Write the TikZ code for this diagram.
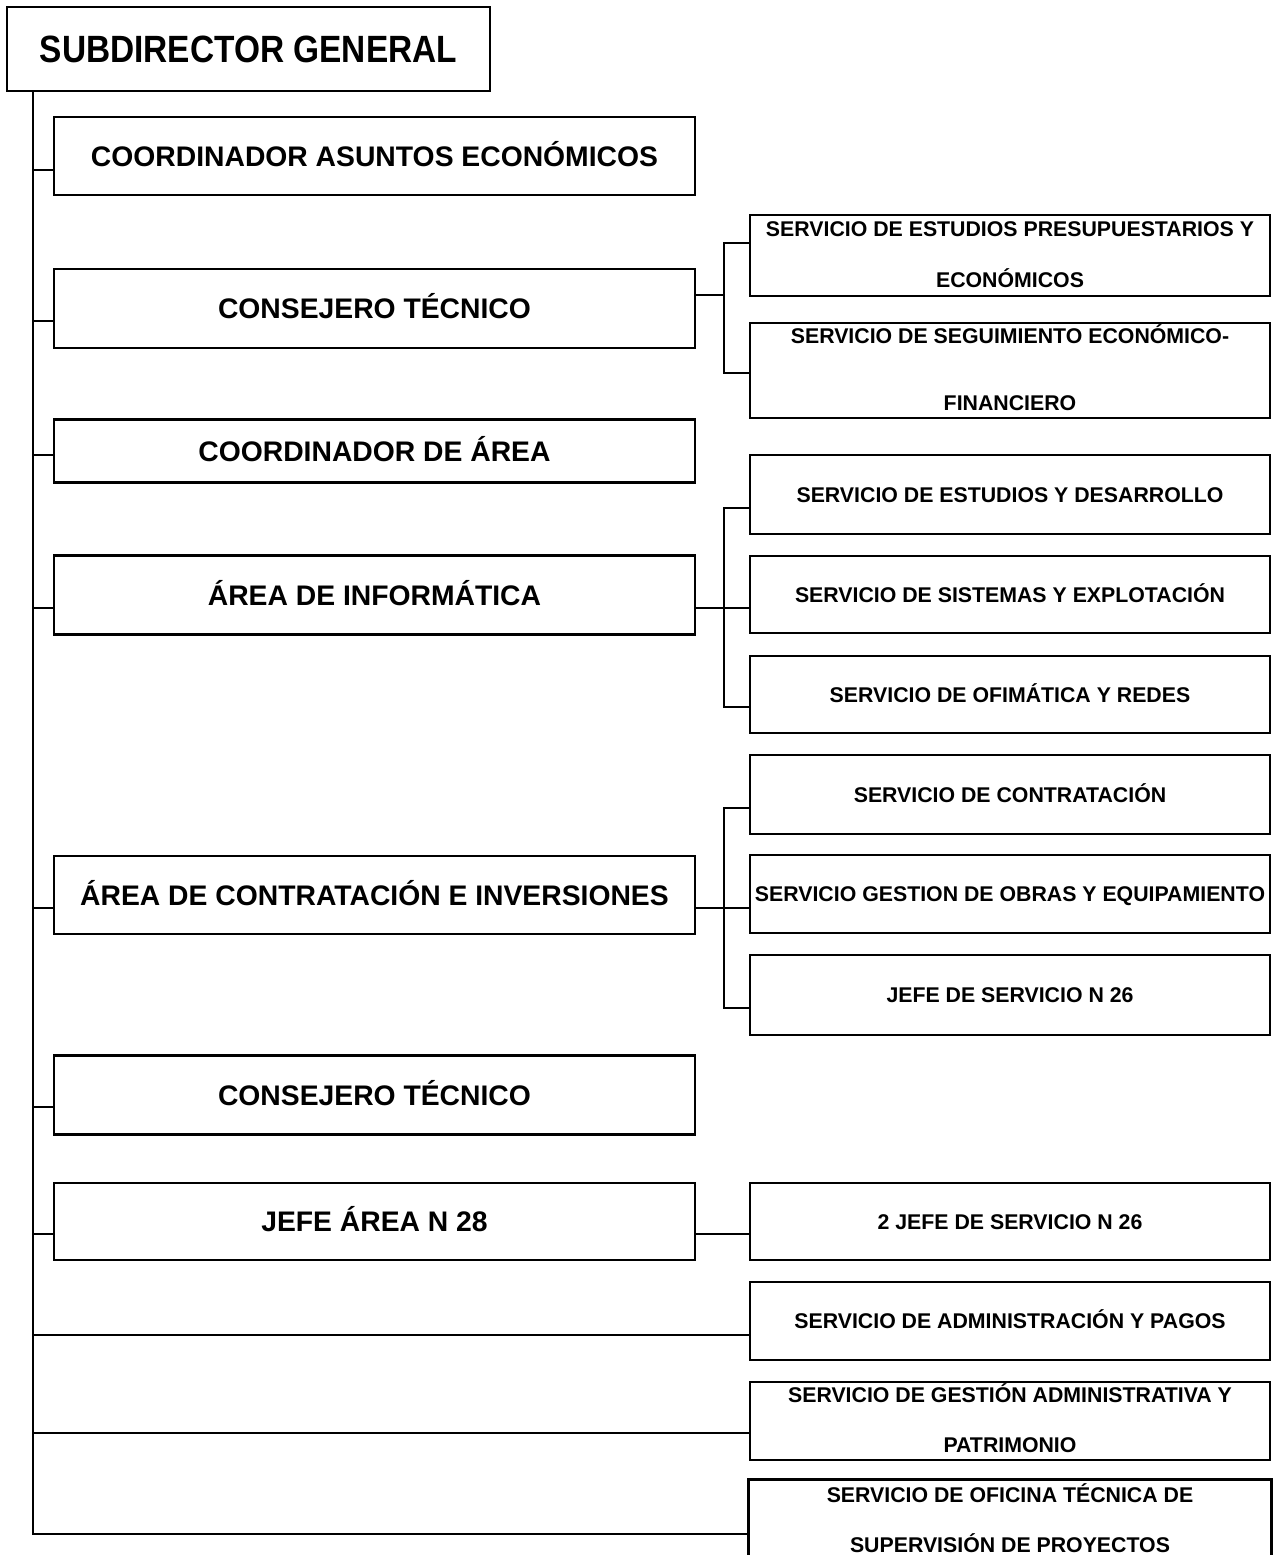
\documentclass[tikz,border=0pt]{standalone}
\usepackage{graphicx}
\usepackage{fontspec}
\setmainfont{Liberation Sans}
\begin{document}
\begin{tikzpicture}[x=1pt,y=-1pt,
  box/.style={draw=black, line width=2.7pt, inner sep=0pt, align=center},
  lbox/.style={box, minimum width=641pt, font=\bfseries\fontsize{28.3}{34}\selectfont, text height=20.3pt, text depth=0pt},
  rbox/.style={box, minimum width=520pt, font=\bfseries\fontsize{21.3}{26}\selectfont, text height=15.25pt, text depth=0pt},
  rtext/.style={inner sep=0pt, font=\bfseries\fontsize{21.3}{26}\selectfont, text height=15.25pt, text depth=0pt},
  conn/.style={line width=2.7pt, line cap=rect}]
\useasboundingbox (0,0) rectangle (1276,1555);

% title
\node[box, line width=2.2pt, minimum width=483pt, minimum height=84pt,
      font=\bfseries\fontsize{38}{44}\selectfont, text height=27.2pt, text depth=0pt]
  (top) at (248.5,49) {\scalebox{0.88}[1]{SUBDIRECTOR GENERAL}};

% left column
\node[lbox, minimum height=78pt] (l1) at (374.5,156) {COORDINADOR ASUNTOS ECONÓMICOS};
\node[lbox, minimum height=79pt] (l2) at (374.5,308.5) {CONSEJERO TÉCNICO};
\node[lbox, minimum height=63pt] (l3) at (374.5,451) {COORDINADOR DE ÁREA};
\node[lbox, minimum height=79pt] (l4) at (374.5,595) {ÁREA DE INFORMÁTICA};
\node[lbox, minimum height=78pt] (l5) at (374.5,895) {ÁREA DE CONTRATACIÓN E INVERSIONES};
\node[lbox, minimum height=79pt] (l6) at (374.5,1095) {CONSEJERO TÉCNICO};
\node[lbox, minimum height=77pt] (l7) at (374.5,1221.5) {JEFE ÁREA N 28};

% right column
\node[rbox, minimum height=81pt] (r1) at (1010,255.5) {};
\node[rtext] (r1a) at (1010,229) {SERVICIO DE ESTUDIOS PRESUPUESTARIOS Y};
\node[rtext] (r1b) at (1010,280) {ECONÓMICOS};
\node[rbox, minimum height=95pt] (r2) at (1010,370.5) {};
\node[rtext] (r2a) at (1010,336) {SERVICIO DE SEGUIMIENTO ECONÓMICO-};
\node[rtext] (r2b) at (1010,403) {FINANCIERO};
\node[rbox, minimum height=79pt] (r3) at (1010,494.5) {SERVICIO DE ESTUDIOS Y DESARROLLO};
\node[rbox, minimum height=77pt] (r4) at (1010,594.5) {SERVICIO DE SISTEMAS Y EXPLOTACIÓN};
\node[rbox, minimum height=77pt] (r5) at (1010,694.5) {SERVICIO DE OFIMÁTICA Y REDES};
\node[rbox, minimum height=79pt] (r6) at (1010,794.5) {SERVICIO DE CONTRATACIÓN};
\node[rbox, minimum height=78pt] (r7) at (1010,894) {SERVICIO GESTION DE OBRAS Y EQUIPAMIENTO};
\node[rbox, minimum height=80pt] (r8) at (1010,995) {JEFE DE SERVICIO N 26};
\node[rbox, minimum height=77pt] (r9) at (1010,1221.5) {2 JEFE DE SERVICIO N 26};
\node[rbox, minimum height=78pt] (r10) at (1010,1321) {SERVICIO DE ADMINISTRACIÓN Y PAGOS};
\node[rbox, minimum height=78pt] (r11) at (1010,1421) {};
\node[rtext] (r11a) at (1010,1395) {SERVICIO DE GESTIÓN ADMINISTRATIVA Y};
\node[rtext] (r11b) at (1010,1444.5) {PATRIMONIO};
\node[rbox, draw=none, minimum height=76pt] (r12) at (1010,1519) {};
\draw[line width=2.7pt] (r12.south west) -- (r12.north west) -- (r12.north east) -- (r12.south east);
\node[rtext] (r12a) at (1010,1495) {SERVICIO DE OFICINA TÉCNICA DE};
\node[rtext] (r12b) at (1010,1545) {SUPERVISIÓN DE PROYECTOS};

% trunk junctions
\coordinate (j1) at (33,170);
\coordinate (j2) at (33,321);
\coordinate (j3) at (33,455);
\coordinate (j4) at (33,608);
\coordinate (j5) at (33,908);
\coordinate (j6) at (33,1107);
\coordinate (j7) at (33,1234);
\coordinate (j8) at (33,1335);
\coordinate (j9) at (33,1433);
\coordinate (j10) at (33,1534);

\draw[conn] (top.south -| j1) -- (j10);
\draw[conn] (j1) -- (j1 -| l1.west);
\draw[conn] (j2) -- (j2 -| l2.west);
\draw[conn] (j3) -- (j3 -| l3.west);
\draw[conn] (j4) -- (j4 -| l4.west);
\draw[conn] (j5) -- (j5 -| l5.west);
\draw[conn] (j6) -- (j6 -| l6.west);
\draw[conn] (j7) -- (j7 -| l7.west);
\draw[conn] (j8) -- (j8 -| r10.west);
\draw[conn] (j9) -- (j9 -| r11.west);
\draw[conn] (j10) -- (j10 -| r12.west);

% branch of CONSEJERO TECNICO
\coordinate (b2) at (724,295);
\coordinate (b2a) at (724,243);
\coordinate (b2b) at (724,373);
\draw[conn] (b2 -| l2.east) -- (b2);
\draw[conn] (b2a -| r1.west) -- (b2a) -- (b2b) -- (b2b -| r2.west);

% branch of AREA DE INFORMATICA
\coordinate (b4) at (724,608);
\coordinate (b4a) at (724,508);
\coordinate (b4b) at (724,707);
\draw[conn] (b4 -| l4.east) -- (b4 -| r4.west);
\draw[conn] (b4a -| r3.west) -- (b4a) -- (b4b) -- (b4b -| r5.west);

% branch of AREA DE CONTRATACION
\coordinate (b5) at (724,908);
\coordinate (b5a) at (724,808);
\coordinate (b5b) at (724,1008);
\draw[conn] (b5 -| l5.east) -- (b5 -| r7.west);
\draw[conn] (b5a -| r6.west) -- (b5a) -- (b5b) -- (b5b -| r8.west);

% JEFE AREA N 28
\coordinate (b7) at (724,1234);
\draw[conn] (b7 -| l7.east) -- (b7 -| r9.west);
\end{tikzpicture}
\end{document}
